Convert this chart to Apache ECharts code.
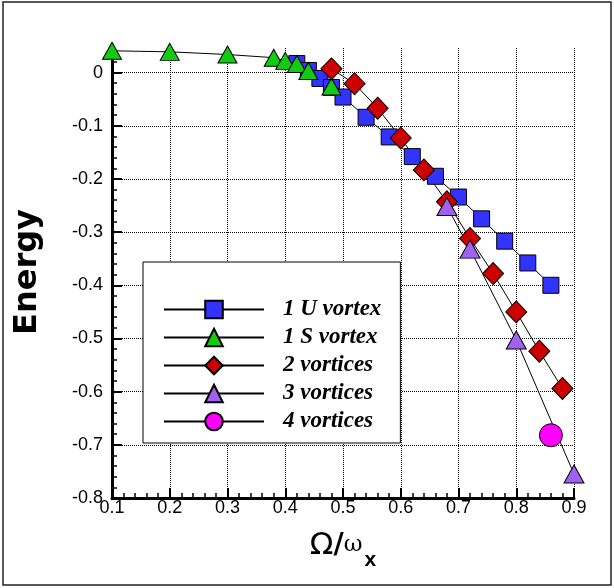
<!DOCTYPE html>
<html>
<head>
<meta charset="utf-8">
<script src="https://cdn.jsdelivr.net/npm/echarts@6/dist/echarts.min.js"></script>
<style>
html,body{margin:0;padding:0;background:#fff;}
#c{width:614px;height:588px;}
</style>
</head>
<body>
<div id="c"></div>
<script>
// ---- data ----
const seriesNames = ['1 U vortex', '1 S vortex', '2 vortices', '3 vortices', '4 vortices'];

const uVortexX = [0.42, 0.44, 0.46, 0.48, 0.50, 0.54, 0.58, 0.62, 0.66, 0.70, 0.74, 0.78, 0.82, 0.86];
const uVortexY = [0.017, 0.004, -0.011, -0.028, -0.046, -0.084, -0.121, -0.158, -0.195, -0.234, -0.275, -0.317, -0.358, -0.400];

const sVortexX = [0.10, 0.20, 0.30, 0.38, 0.40, 0.42, 0.44, 0.48];
const sVortexY = [0.041, 0.039, 0.034, 0.028, 0.022, 0.016, 0.003, -0.026];

const twoVortX = [0.48, 0.52, 0.56, 0.60, 0.64, 0.68, 0.72, 0.76, 0.80, 0.84, 0.88];
const twoVortY = [0.007, -0.021, -0.067, -0.123, -0.183, -0.243, -0.312, -0.378, -0.450, -0.524, -0.594];

const threeVortX = [0.68, 0.72, 0.80, 0.90];
const threeVortY = [-0.252, -0.332, -0.503, -0.755];

const fourVortX = [0.86];
const fourVortY = [-0.682];

const xTickLabels = [0.1, 0.2, 0.3, 0.4, 0.5, 0.6, 0.7, 0.8, 0.9];
const yTickLabels = [-0.8, -0.7, -0.6, -0.5, -0.4, -0.3, -0.2, -0.1, 0];

function pairs(xs, ys) { return xs.map((x, i) => [x, ys[i]]); }

const chart = echarts.init(document.getElementById('c'), null, {renderer: 'canvas'});

const lineStyle = {color: '#000', width: 1};
function mkSeries(name, xs, ys, symbol, size, color) {
  return {
    name: name, type: 'line', data: pairs(xs, ys),
    symbol: symbol, symbolSize: size, showAllSymbol: true,
    lineStyle: lineStyle,
    itemStyle: {color: color, borderColor: '#000', borderWidth: 1},
    emphasis: {disabled: true},
    animation: false
  };
}

const option = {
  animation: false,
  backgroundColor: '#fff',
  grid: {left: 112, right: 40, top: 46, bottom: 90, containLabel: false},
  xAxis: {
    type: 'value', min: 0.1, max: 0.9, interval: 0.1,
    name: '{a|Ω}{b|/}{c|ω}{d|x}',
    nameLocation: 'middle', nameGap: 22,
    nameTextStyle: {
      rich: {
        a: {fontFamily: 'DejaVu Sans', fontSize: 31, color: '#000'},
        b: {fontFamily: 'DejaVu Sans', fontWeight: 'bold', fontSize: 28, color: '#000'},
        c: {fontFamily: 'DejaVu Serif', fontSize: 23, color: '#000'},
        d: {fontFamily: 'Liberation Sans', fontWeight: 'bold', fontSize: 21, color: '#000', padding: [30, 0, 0, 2]}
      }
    },
    axisLine: {show: true, onZero: false, lineStyle: {color: '#000', width: 3}},
    axisTick: {show: true, inside: true, length: 10, lineStyle: {color: '#000', width: 2}, customValues: xTickLabels},
    minorTick: {show: true, splitNumber: 5, length: 5, lineStyle: {color: '#000', width: 1.5}},
    axisLabel: {
      show: true, margin: 1, color: '#000', fontFamily: 'Liberation Sans', fontSize: 18,
      customValues: xTickLabels,
      formatter: v => (Math.round(v * 10) / 10).toString()
    },
    splitLine: {show: true, lineStyle: {color: '#000', width: 1, type: [1, 1]}}
  },
  yAxis: {
    type: 'value', min: -0.8, max: 0.05, interval: 0.1,
    name: 'Energy',
    nameLocation: 'middle', nameGap: 68,
    nameTextStyle: {fontFamily: 'DejaVu Sans', fontWeight: 'bold', fontSize: 32, color: '#000'},
    axisLine: {show: true, onZero: false, lineStyle: {color: '#000', width: 3}},
    axisTick: {show: true, inside: true, length: 10, lineStyle: {color: '#000', width: 2}, customValues: yTickLabels},
    minorTick: {show: true, splitNumber: 5, length: 5, lineStyle: {color: '#000', width: 1.5}},
    axisLabel: {
      show: true, margin: 9, color: '#000', fontFamily: 'Liberation Sans', fontSize: 18,
      customValues: yTickLabels,
      formatter: v => { const r = Math.round(v * 10) / 10; return r === 0 ? '0' : r.toString(); }
    },
    splitLine: {show: true, lineStyle: {color: '#000', width: 1, type: [1, 1]}}
  },
  legend: {
    show: true, orient: 'vertical', left: 143, top: 262,
    padding: [36, 19, 10, 20],
    itemWidth: 100, itemHeight: 22, itemGap: 5,
    backgroundColor: '#fff', borderColor: '#000', borderWidth: 1,
    selectedMode: false,
    textStyle: {fontFamily: 'Liberation Serif', fontStyle: 'italic', fontWeight: 'bold', fontSize: 23, color: '#000', padding: [0, 0, 0, 14]},
    data: seriesNames
  },
  graphic: [{
    type: 'line', shape: {x1: 114, y1: 46.5, x2: 577, y2: 46.5},
    style: {stroke: '#fff', lineWidth: 1.5}, silent: true, z: 1
  }, {
    type: 'rect', shape: {x: 3, y: 2, width: 608, height: 583},
    style: {fill: 'none', stroke: '#222', lineWidth: 1.5}, silent: true, z: 100
  }],
  series: [
    mkSeries(seriesNames[0], uVortexX, uVortexY, 'rect', 16, '#3333ff'),
    mkSeries(seriesNames[1], sVortexX, sVortexY, 'triangle', [19, 17], '#11cc11'),
    mkSeries(seriesNames[2], twoVortX, twoVortY, 'diamond', [21, 22], '#cc0000'),
    mkSeries(seriesNames[3], threeVortX, threeVortY, 'triangle', [20, 18], '#a060f0'),
    mkSeries(seriesNames[4], fourVortX, fourVortY, 'circle', 23, '#ff00ff')
  ]
};
chart.setOption(option);
</script>
</body>
</html>
